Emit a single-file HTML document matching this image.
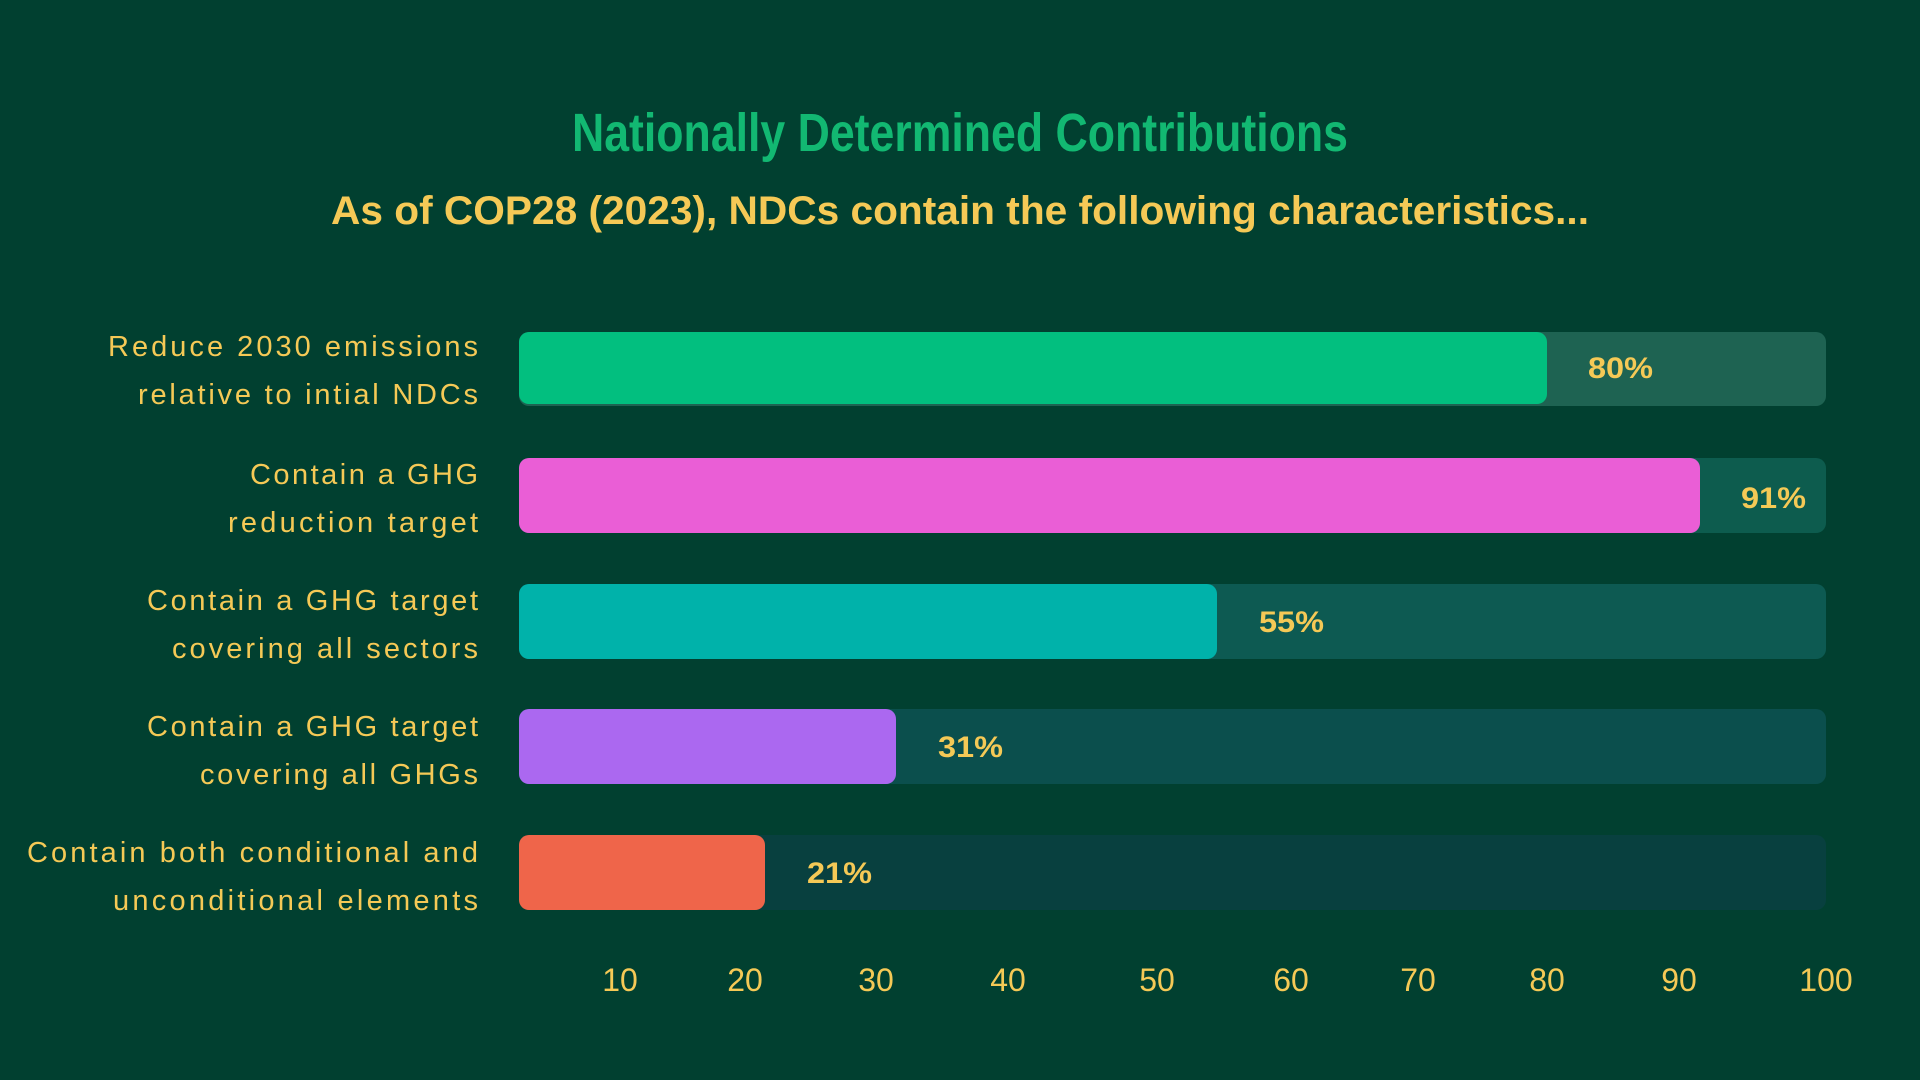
<!DOCTYPE html>
<html><head><meta charset="utf-8"><style>
html,body{margin:0;padding:0;background:#014030;}
svg{display:block}
</style></head><body>
<svg width="1920" height="1080" viewBox="0 0 1920 1080" xmlns="http://www.w3.org/2000/svg">
<rect width="1920" height="1080" fill="#014030"/>
<text x="960" y="151" text-anchor="middle" font-family="Liberation Sans Narrow, Liberation Sans, sans-serif" font-weight="bold" font-size="54" fill="#12b872" textLength="776" lengthAdjust="spacingAndGlyphs">Nationally Determined Contributions</text>
<text x="960" y="224" text-anchor="middle" font-family="Liberation Sans, sans-serif" font-weight="bold" font-size="40" fill="#f5c956" textLength="1258" lengthAdjust="spacingAndGlyphs">As of COP28 (2023), NDCs contain the following characteristics...</text>
<g font-family="Liberation Sans, sans-serif">
<rect x="519" y="332" width="1307" height="74" rx="10" fill="#1e6352"/>
<rect x="519" y="332" width="1028" height="72" rx="10" fill="#02bf7f"/>
<text x="1588" y="378" font-weight="bold" font-size="30" fill="#f5c956" textLength="65" lengthAdjust="spacingAndGlyphs">80%</text>
<rect x="519" y="458" width="1307" height="75" rx="10" fill="#0d5c4e"/>
<rect x="519" y="458" width="1181" height="75" rx="10" fill="#ea5ed6"/>
<text x="1741" y="508" font-weight="bold" font-size="30" fill="#f5c956" textLength="65" lengthAdjust="spacingAndGlyphs">91%</text>
<rect x="519" y="584" width="1307" height="75" rx="10" fill="#0d5a52"/>
<rect x="519" y="584" width="698" height="75" rx="10" fill="#00b2aa"/>
<text x="1259" y="632" font-weight="bold" font-size="30" fill="#f5c956" textLength="65" lengthAdjust="spacingAndGlyphs">55%</text>
<rect x="519" y="709" width="1307" height="75" rx="10" fill="#0b4f4d"/>
<rect x="519" y="709" width="377" height="75" rx="10" fill="#ab68f0"/>
<text x="938" y="757" font-weight="bold" font-size="30" fill="#f5c956" textLength="65" lengthAdjust="spacingAndGlyphs">31%</text>
<rect x="519" y="835" width="1307" height="75" rx="10" fill="#08403f"/>
<rect x="519" y="835" width="246" height="75" rx="10" fill="#ef654a"/>
<text x="807" y="883" font-weight="bold" font-size="30" fill="#f5c956" textLength="65" lengthAdjust="spacingAndGlyphs">21%</text>
</g>
<g font-family="Liberation Sans, sans-serif" font-size="29" fill="#f5c956" text-anchor="end" lengthAdjust="spacingAndGlyphs">
<text x="478" y="356" textLength="370">Reduce 2030 emissions</text>
<text x="478" y="404" textLength="340">relative to intial NDCs</text>
<text x="478" y="484" textLength="228">Contain a GHG</text>
<text x="478" y="532" textLength="250">reduction target</text>
<text x="478" y="610" textLength="331">Contain a GHG target</text>
<text x="478" y="658" textLength="306">covering all sectors</text>
<text x="478" y="736" textLength="331">Contain a GHG target</text>
<text x="478" y="784" textLength="278">covering all GHGs</text>
<text x="478" y="862" textLength="451">Contain both conditional and</text>
<text x="478" y="910" textLength="365">unconditional elements</text>
</g>
<g font-family="Liberation Sans, sans-serif" font-size="32" fill="#f5c956" text-anchor="middle">
<text x="620" y="991">10</text><text x="745" y="991">20</text><text x="876" y="991">30</text>
<text x="1008" y="991">40</text><text x="1157" y="991">50</text><text x="1291" y="991">60</text>
<text x="1418" y="991">70</text><text x="1547" y="991">80</text><text x="1679" y="991">90</text>
<text x="1826" y="991">100</text>
</g>
</svg>
</body></html>
